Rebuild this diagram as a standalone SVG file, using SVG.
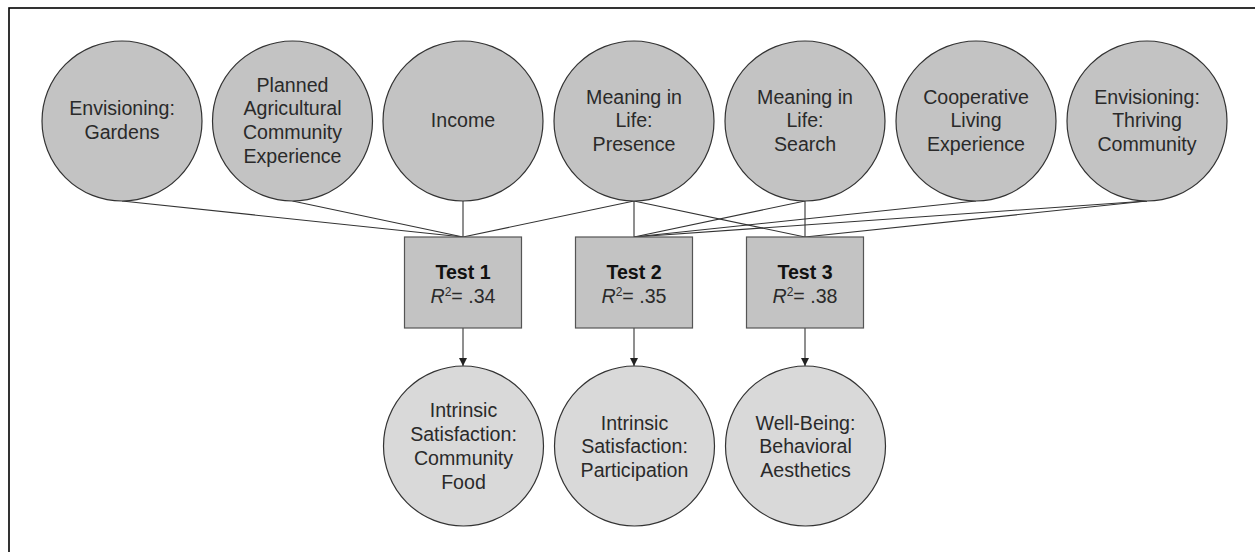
<svg xmlns="http://www.w3.org/2000/svg" width="1255" height="552" viewBox="0 0 1255 552">
<style>
  .frame{fill:none;stroke:#000;stroke-width:1.6}
  .pred{fill:#c3c3c3;stroke:#333;stroke-width:1.2}
  .out{fill:#d9d9d9;stroke:#333;stroke-width:1.2}
  .box{fill:#c3c3c3;stroke:#555;stroke-width:1.2}
  .lbl{font-family:"Liberation Sans",Arial,sans-serif;font-size:19.6px;fill:#2a2a2a;text-anchor:middle}
  .bold{font-weight:bold;fill:#111}
  .conn line{stroke:#333;stroke-width:1.1}
</style>
<defs>
  <marker id="arr" viewBox="0 0 10 10" refX="10" refY="5" markerWidth="8" markerHeight="8" markerUnits="userSpaceOnUse" orient="auto">
    <path d="M0,0 L10,5 L0,10 z" fill="#222"/>
  </marker>
</defs>
<rect width="1255" height="552" fill="#fff"/>
<rect class="frame" x="9" y="8" width="1270" height="570"/>

<g id="connectors" class="conn">
  <line x1="122" y1="201" x2="463" y2="237"/>
  <line x1="292.5" y1="201" x2="463" y2="237"/>
  <line x1="463" y1="201" x2="463" y2="237"/>
  <line x1="634" y1="201" x2="463" y2="237"/>
  <line x1="634" y1="201" x2="634" y2="237"/>
  <line x1="634" y1="201" x2="805" y2="237"/>
  <line x1="805" y1="201" x2="634" y2="237"/>
  <line x1="805" y1="201" x2="805" y2="237"/>
  <line x1="976" y1="201" x2="634" y2="237"/>
  <line x1="1147" y1="201" x2="634" y2="237"/>
  <line x1="1147" y1="201" x2="805" y2="237"/>
  <line x1="463" y1="328" x2="463" y2="366" marker-end="url(#arr)"/>
  <line x1="634" y1="328" x2="634" y2="366" marker-end="url(#arr)"/>
  <line x1="805" y1="328" x2="805" y2="366" marker-end="url(#arr)"/>
</g>

<g id="envisioning-gardens">
  <circle class="pred" cx="122" cy="121" r="80"/>
  <text class="lbl" x="122" y="115.2">Envisioning:</text>
  <text class="lbl" x="122" y="138.8">Gardens</text>
</g>
<g id="planned-agricultural">
  <circle class="pred" cx="292.5" cy="121" r="80"/>
  <text class="lbl" x="292.5" y="91.5">Planned</text>
  <text class="lbl" x="292.5" y="115.2">Agricultural</text>
  <text class="lbl" x="292.5" y="138.8">Community</text>
  <text class="lbl" x="292.5" y="162.5">Experience</text>
</g>
<g id="income">
  <circle class="pred" cx="463" cy="121" r="80"/>
  <text class="lbl" x="463" y="127.3">Income</text>
</g>
<g id="meaning-presence">
  <circle class="pred" cx="634" cy="121" r="80"/>
  <text class="lbl" x="634" y="103.5">Meaning in</text>
  <text class="lbl" x="634" y="127.3">Life:</text>
  <text class="lbl" x="634" y="151">Presence</text>
</g>
<g id="meaning-search">
  <circle class="pred" cx="805" cy="121" r="80"/>
  <text class="lbl" x="805" y="103.5">Meaning in</text>
  <text class="lbl" x="805" y="127.3">Life:</text>
  <text class="lbl" x="805" y="151">Search</text>
</g>
<g id="cooperative-living">
  <circle class="pred" cx="976" cy="121" r="80"/>
  <text class="lbl" x="976" y="103.5">Cooperative</text>
  <text class="lbl" x="976" y="127.3">Living</text>
  <text class="lbl" x="976" y="151">Experience</text>
</g>
<g id="envisioning-thriving">
  <circle class="pred" cx="1147" cy="121" r="80"/>
  <text class="lbl" x="1147" y="103.5">Envisioning:</text>
  <text class="lbl" x="1147" y="127.3">Thriving</text>
  <text class="lbl" x="1147" y="151">Community</text>
</g>

<g id="test1">
  <rect class="box" x="404.5" y="237" width="117" height="91"/>
  <text class="lbl bold" x="463" y="278.5">Test 1</text>
  <text class="lbl" x="463" y="302.5"><tspan font-style="italic">R</tspan><tspan font-size="12" dy="-7">2</tspan><tspan dy="7">= .34</tspan></text>
</g>
<g id="test2">
  <rect class="box" x="575.5" y="237" width="117" height="91"/>
  <text class="lbl bold" x="634" y="278.5">Test 2</text>
  <text class="lbl" x="634" y="302.5"><tspan font-style="italic">R</tspan><tspan font-size="12" dy="-7">2</tspan><tspan dy="7">= .35</tspan></text>
</g>
<g id="test3">
  <rect class="box" x="746.5" y="237" width="117" height="91"/>
  <text class="lbl bold" x="805" y="278.5">Test 3</text>
  <text class="lbl" x="805" y="302.5"><tspan font-style="italic">R</tspan><tspan font-size="12" dy="-7">2</tspan><tspan dy="7">= .38</tspan></text>
</g>

<g id="community-food">
  <circle class="out" cx="463.5" cy="446" r="80"/>
  <text class="lbl" x="463.5" y="417.3">Intrinsic</text>
  <text class="lbl" x="463.5" y="441">Satisfaction:</text>
  <text class="lbl" x="463.5" y="464.8">Community</text>
  <text class="lbl" x="463.5" y="488.5">Food</text>
</g>
<g id="participation">
  <circle class="out" cx="634.5" cy="446" r="80"/>
  <text class="lbl" x="634.5" y="429.5">Intrinsic</text>
  <text class="lbl" x="634.5" y="453.3">Satisfaction:</text>
  <text class="lbl" x="634.5" y="477">Participation</text>
</g>
<g id="behavioral-aesthetics">
  <circle class="out" cx="805.5" cy="446" r="80"/>
  <text class="lbl" x="805.5" y="429.5">Well-Being:</text>
  <text class="lbl" x="805.5" y="453.3">Behavioral</text>
  <text class="lbl" x="805.5" y="477">Aesthetics</text>
</g>
</svg>
